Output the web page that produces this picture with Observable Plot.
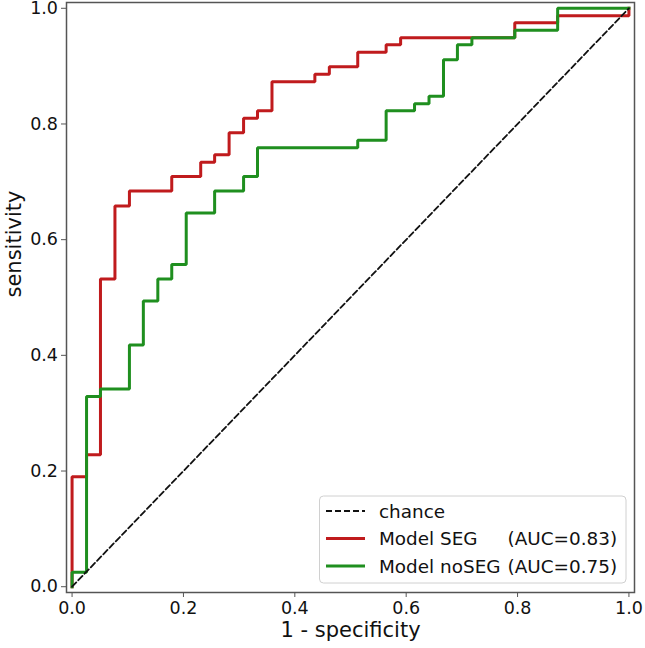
<!DOCTYPE html>
<html>
<head>
<meta charset="utf-8">
<script src="https://cdn.jsdelivr.net/npm/d3@7"></script>
<script src="https://cdn.jsdelivr.net/npm/@observablehq/plot@0.6"></script>
<style>
  html, body { margin: 0; padding: 0; background: #fff; }
  #chart svg { display: block; font-family: "DejaVu Sans", sans-serif; }
</style>
</head>
<body>
<div id="chart"></div>
<script>
// ROC corner points
const segFpr = [0, 0, 0.026, 0.026, 0.051, 0.051, 0.077, 0.077, 0.103, 0.103, 0.179, 0.179, 0.231, 0.231, 0.256, 0.256, 0.282, 0.282, 0.308, 0.308, 0.333, 0.333, 0.359, 0.359, 0.436, 0.436, 0.462, 0.462, 0.513, 0.513, 0.564, 0.564, 0.590, 0.590, 0.795, 0.795, 0.872, 0.872, 1, 1];
const segTpr = [0, 0.190, 0.190, 0.228, 0.228, 0.532, 0.532, 0.658, 0.658, 0.684, 0.684, 0.709, 0.709, 0.734, 0.734, 0.747, 0.747, 0.785, 0.785, 0.810, 0.810, 0.823, 0.823, 0.873, 0.873, 0.886, 0.886, 0.899, 0.899, 0.924, 0.924, 0.937, 0.937, 0.949, 0.949, 0.975, 0.975, 0.987, 0.987, 1];

const nosegFpr = [0, 0, 0.026, 0.026, 0.051, 0.051, 0.103, 0.103, 0.128, 0.128, 0.154, 0.154, 0.179, 0.179, 0.205, 0.205, 0.256, 0.256, 0.308, 0.308, 0.333, 0.333, 0.513, 0.513, 0.564, 0.564, 0.615, 0.615, 0.641, 0.641, 0.667, 0.667, 0.692, 0.692, 0.718, 0.718, 0.795, 0.795, 0.872, 0.872, 1];
const nosegTpr = [0, 0.025, 0.025, 0.329, 0.329, 0.342, 0.342, 0.418, 0.418, 0.494, 0.494, 0.532, 0.532, 0.557, 0.557, 0.646, 0.646, 0.684, 0.684, 0.709, 0.709, 0.759, 0.759, 0.772, 0.772, 0.823, 0.823, 0.835, 0.835, 0.848, 0.848, 0.911, 0.911, 0.937, 0.937, 0.949, 0.949, 0.962, 0.962, 1, 1];

const chanceX = [0, 1];
const chanceY = [0, 1];

const ticks = [0, 0.2, 0.4, 0.6, 0.8, 1.0];
const seriesNames = ["Model SEG", "Model noSEG"];
const aucs = [0.83, 0.75];
const colors = ["#c01b1d", "#1f8f1f"];

const seg = segFpr.map((x, i) => ({x, y: segTpr[i]}));
const noseg = nosegFpr.map((x, i) => ({x, y: nosegTpr[i]}));
const chance = chanceX.map((x, i) => ({x, y: chanceY[i]}));

const W = 645, H = 648;
const mL = 66, mR = 11, mT = 2, mB = 56;

const plot = Plot.plot({
  width: W,
  height: H,
  marginLeft: mL,
  marginRight: mR,
  marginTop: mT,
  marginBottom: mB,
  x: {domain: [-0.01, 1.01]},
  y: {domain: [-0.01, 1.01]},
  style: {fontFamily: "DejaVu Sans, sans-serif", background: "#fff", overflow: "visible"},
  marks: [
    Plot.line(seg, {x: "x", y: "y", stroke: colors[0], strokeWidth: 3, strokeLinejoin: "miter", strokeLinecap: "square"}),
    Plot.line(noseg, {x: "x", y: "y", stroke: colors[1], strokeWidth: 3, strokeLinejoin: "miter", strokeLinecap: "square"}),
    Plot.line(chance, {x: "x", y: "y", stroke: "#111", strokeWidth: 1.8, strokeDasharray: "6,3"}),
    Plot.frame({stroke: "#555", strokeWidth: 1.5}),
    Plot.axisX({ticks, tickFormat: d3.format(".1f"), tickSize: 5, tickPadding: 4, fontSize: 17.5, stroke: "#555", fill: "#111", label: null}),
    Plot.axisY({ticks, tickFormat: d3.format(".1f"), tickSize: 5, tickPadding: 3.5, fontSize: 17.5, stroke: "#555", fill: "#111", label: null}),
    Plot.text(["1 - specificity"], {frameAnchor: "bottom", text: d => d, dy: 44.5, lineAnchor: "bottom", fontSize: 21, fill: "#111"}),
    Plot.text(["sensitivity"], {frameAnchor: "left", text: d => d, rotate: -90, dx: -45.5, lineAnchor: "bottom", fontSize: 21, fill: "#111"})
  ]
});

document.getElementById("chart").appendChild(plot);

// Legend inside the plot (lower right)
const svg = d3.select(plot);
const lg = svg.append("g")
  .attr("font-family", "DejaVu Sans, sans-serif")
  .attr("font-size", 18.4)
  .attr("text-anchor", "start");
lg.append("rect")
  .attr("x", 319.5).attr("y", 496).attr("width", 306.5).attr("height", 87)
  .attr("rx", 4).attr("fill", "#fff").attr("fill-opacity", 0.85)
  .attr("stroke", "#d0d0d0").attr("stroke-width", 1);
const rows = [
  {label: "chance", auc: null, color: "#111", dash: "6,3", w: 1.8},
  {label: seriesNames[0], auc: aucs[0], color: colors[0], dash: null, w: 3},
  {label: seriesNames[1], auc: aucs[1], color: colors[1], dash: null, w: 3}
];
const rowY = [511, 538.5, 566];
rows.forEach((r, i) => {
  const l = lg.append("line").attr("x1", 326).attr("x2", 365).attr("y1", rowY[i]).attr("y2", rowY[i])
    .attr("stroke", r.color).attr("stroke-width", r.w);
  if (r.dash) l.attr("stroke-dasharray", r.dash);
  lg.append("text").attr("x", 379).attr("y", rowY[i]).attr("dy", "0.36em").attr("fill", "#111")
    .attr("text-anchor", "start").text(r.label);
  if (r.auc !== null) {
    lg.append("text").attr("x", 507.5).attr("y", rowY[i]).attr("dy", "0.36em").attr("fill", "#111")
      .attr("text-anchor", "start").text(`(AUC=${r.auc.toFixed(2)})`);
  }
});
</script>
</body>
</html>
